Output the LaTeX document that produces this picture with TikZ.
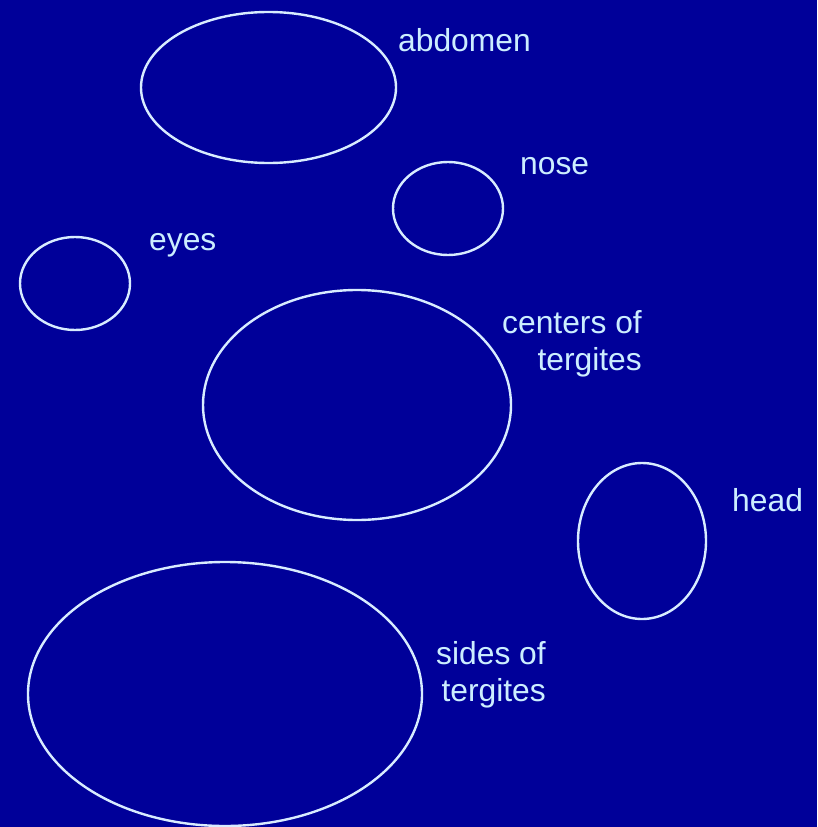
\documentclass[tikz,border=0pt]{standalone}
\usepackage{fontspec}
\setmainfont{Liberation Sans}
\definecolor{bgblue}{HTML}{000099}
\definecolor{linecol}{HTML}{D8ECFF}
\definecolor{txtcol}{HTML}{CCEEFF}
\begin{document}
\begin{tikzpicture}[x=1pt,y=-1pt,
  blob/.style={draw=linecol,line width=2.4pt},
  lab/.style={text=txtcol,font=\fontsize{31.8}{37}\selectfont,inner sep=0pt,align=right}]
\fill[bgblue] (0,0) rectangle (817,827);
\useasboundingbox (0,0) rectangle (817,827);
\draw[blob] (268.5,87.5) ellipse [x radius=127.5, y radius=75.5];
\draw[blob] (448,208.5) ellipse [x radius=55, y radius=46.5];
\draw[blob] (75,283.5) ellipse [x radius=55, y radius=46.5];
\draw[blob] (357,405) ellipse [x radius=154, y radius=115];
\draw[blob] (642,541) ellipse [x radius=64, y radius=78];
\draw[blob] (225,694) ellipse [x radius=197, y radius=132];
\node[lab,anchor=base west] (abd) at (398,51) {abdomen};
\node[lab,anchor=base west] (nose) at (520,174) {nose};
\node[lab,anchor=base west] (eyes) at (149,250) {eyes};
\node[lab,anchor=base east] (cen) at (642,370) {centers of\\tergites};
\node[lab,anchor=base west] (head) at (732,511) {head};
\node[lab,anchor=base east] (sid) at (546,701) {sides of\\tergites};
\end{tikzpicture}
\end{document}
